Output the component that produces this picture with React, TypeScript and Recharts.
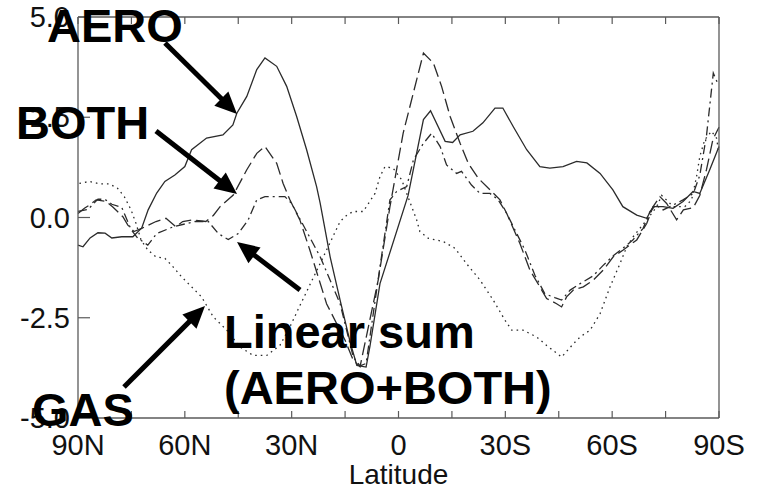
import { LineChart, Line, XAxis, YAxis } from "recharts";

// Zonal-mean change vs latitude. Negative lat = north, positive = south.
// Each series: [latitude, value].
const aero: [number, number][] = [
  [-90, -0.69], [-88.6, -0.73], [-86.6, -0.51], [-84.4, -0.38], [-82.4, -0.39], [-80.5, -0.51],
  [-77.7, -0.48], [-74.6, -0.48], [-72.1, -0.26], [-70.3, 0.19], [-67.9, 0.61], [-65.6, 0.9],
  [-62.8, 1.06], [-60, 1.27], [-58.1, 1.69], [-53.9, 1.98], [-49.3, 2.06], [-46.5, 2.31],
  [-45.4, 2.6], [-42.6, 3.02], [-39.8, 3.69], [-37.5, 3.98], [-34.2, 3.77], [-31.4, 3.27],
  [-28.6, 2.52], [-25.8, 1.69], [-23, 0.77], [-22, 0.36], [-19.2, -0.98], [-16.4, -2.06],
  [-13.6, -3.1], [-11.7, -3.69], [-9.1, -3.73], [-8, -3.2], [-5.2, -1.65], [2.7, 0.55],
  [7, 2.44], [9, 2.66], [13.1, 1.9], [15.2, 1.87], [17.3, 2.06], [20.9, 2.15], [23.7, 2.36],
  [27.1, 2.73], [29.3, 2.73], [32.2, 2.27], [36, 1.69], [39.7, 1.27], [42.5, 1.23], [46.2, 1.27],
  [50, 1.4], [52.9, 1.36], [56.6, 1.1], [60.2, 0.69], [63, 0.27], [66.9, 0.06], [69.7, -0.02],
  [71.5, 0.27], [74.3, 0.27], [77.1, 0.23], [79.9, 0.4], [82.7, 0.65], [84.6, 0.6], [87.4, 1.19],
  [90, 1.77],
];

const both: [number, number][] = [
  [-90, 0.1], [-88.2, 0.23], [-86.8, 0.31], [-84.9, 0.44], [-82.1, 0.4], [-80.3, 0.27],
  [-78.9, 0.15], [-77.4, 0.02], [-76, -0.19], [-74.3, -0.35], [-72.1, -0.27], [-68.1, -0.1],
  [-65.3, -0.02], [-62.5, -0.23], [-60.6, -0.1], [-57.8, -0.06], [-54.1, -0.1], [-52, 0.05],
  [-50.1, 0.27], [-46.4, 0.56], [-42.6, 1.19], [-39.8, 1.6], [-37.5, 1.77], [-34.2, 1.35],
  [-32.4, 0.85], [-30.5, 0.44], [-27.7, -0.06], [-24.9, -0.81], [-20.2, -2.15], [-15, -3.06],
  [-12.7, -3.56], [-10.8, -3.72], [-5.7, -1.56], [-2.4, 0.27], [1.3, 2.1], [7, 4.1], [9.8, 3.85],
  [12.1, 3.27], [14.5, 2.52], [17.3, 1.85], [19.6, 1.35], [22.4, 0.98], [25.7, 0.69], [28.5, 0.44],
  [30.4, 0.1], [34.1, -0.65], [36.9, -1.31], [39.7, -1.73], [41.6, -2.02], [44.4, -2.15],
  [45.8, -2.23], [47.2, -1.98], [49.1, -1.81], [51.9, -1.73], [54.7, -1.56], [57.5, -1.31],
  [60.3, -0.98], [63.1, -0.81], [66.9, -0.56], [69.7, -0.15], [71.5, 0.27], [73.4, 0.52],
  [75.3, 0.35], [78.1, -0.06], [80, 0.19], [82.8, 0.25], [84.6, 0.55], [86.5, 1.2], [88.3, 1.95],
  [90, 2.25],
];

const linearSum: [number, number][] = [
  [-90, 0.15], [-87.2, 0.2], [-84.4, 0.46], [-82.4, 0.45], [-80.5, 0.33], [-77.7, 0.25],
  [-75.1, -0.3], [-73.2, -0.52], [-71.8, -0.6], [-70.4, -0.69], [-67.9, -0.4], [-63.2, -0.23],
  [-57.1, -0.1], [-53.4, -0.1], [-50.6, -0.4], [-47.8, -0.55], [-45, -0.4], [-42.2, -0.06],
  [-39.8, 0.44], [-37.5, 0.52], [-31.9, 0.52], [-30, 0.35], [-22, -0.98], [-16.4, -2.15],
  [-12.7, -3.48], [-10.8, -3.7], [-9.1, -3.64], [-5.2, -1.23], [-2.4, 0.44], [-0.5, 0.65],
  [2.3, 0.77], [4.2, 1.44], [7, 1.85], [9.3, 2.1], [11.7, 1.77], [13.5, 1.31], [16.3, 1.1],
  [17.7, 1.15], [20.5, 0.81], [22.9, 0.6], [25.7, 0.6], [28, 0.44], [30.4, 0.1], [33.2, -0.4],
  [35.5, -0.81], [38.3, -1.44], [41.1, -1.9], [43.9, -2], [45.8, -2.06], [48.2, -1.81],
  [51, -1.65], [54.6, -1.46], [57.4, -1.2], [60.2, -0.96], [63, -0.77], [65.8, -0.56],
  [68.7, -0.27], [70.6, 0.15], [72.3, 0.31], [74.3, 0.19], [77.1, 0.31], [79.9, 0.44],
  [82.8, 0.6], [84.6, 1.05], [86.5, 2.05], [88.4, 3.6], [89.8, 3.31],
];

const gas: [number, number][] = [
  [-89.6, 0.85], [-86.8, 0.9], [-84, 0.84], [-81.2, 0.84], [-78.9, 0.73], [-77, 0.52],
  [-75.1, 0.19], [-73.7, -0.15], [-72.3, -0.56], [-70.4, -0.81], [-68.1, -0.98], [-65.6, -1.02],
  [-63.7, -1.19], [-60.9, -1.48], [-58.1, -1.73], [-55.3, -1.98], [-52, -2.48], [-48.2, -2.81],
  [-44.5, -3.23], [-40.8, -3.44], [-37, -3.44], [-33.3, -3.19], [-30.5, -2.73], [-27.7, -2.2],
  [-21.1, -0.98], [-16.4, -0.1], [-14.5, 0.06], [-12.7, 0.15], [-9.9, 0.15], [-6.6, 0.6],
  [-5.2, 1.02], [-3.8, 1.27], [-1.5, 1.23], [0.9, 0.94], [2.3, 0.6], [3.7, 0.27], [5.1, -0.06],
  [6, -0.35], [8.4, -0.52], [12.6, -0.6], [15.9, -0.77], [19.1, -1.15], [22.9, -1.56],
  [26.6, -2.06], [29.9, -2.56], [31.8, -2.81], [35, -2.81], [38.8, -2.98], [41.6, -3.19],
  [45.8, -3.48], [49.1, -3.15], [51, -2.98], [53.8, -2.81], [56.6, -2.4], [59.4, -1.73],
  [62.2, -1.15], [64.1, -0.73], [65.9, -0.48], [69.7, -0.06], [72.5, 0.27], [73.9, 0.55],
  [77.2, 0.27], [80.4, 0.27], [82.3, 0.44], [83.7, 1.02], [84.6, 1.52], [86, 1.94], [87.9, 2.15],
  [89.3, 1.98], [90, 1.6],
];

const X_TICKS = [-90, -75, -60, -45, -30, -15, 0, 15, 30, 45, 60, 75, 90];
const Y_TICKS = [-5, -2.5, 0, 2.5, 5];

const SERIES = [
  { key: "aero", pts: aero, dash: undefined },
  { key: "both", pts: both, dash: "13 5" },
  { key: "sum", pts: linearSum, dash: "9 4 2 4" },
  { key: "gas", pts: gas, dash: "1.6 4" },
];

const FONT = "'Liberation Sans', Arial, Helvetica, sans-serif";
const AXIS = "#5a5a5a";
const INK = "#2b2b2b";

type Row = { lat: number } & Record<string, number>;

const rows: Row[] = SERIES.flatMap((s) =>
  s.pts.map(([lat, v]) => ({ lat, [s.key]: v } as Row))
).sort((a, b) => a.lat - b.lat);

function latLabel(v: number): string {
  if (v === 0) return "0";
  return v < 0 ? `${-v}N` : `${v}S`;
}

function BottomTick({ x, y, payload }: any) {
  const v = payload.value as number;
  return (
    <g>
      <line x1={x} y1={y} x2={x} y2={y - 7} stroke={AXIS} strokeWidth={1.2} />
      {v % 30 === 0 ? (
        <text x={x} y={y + 37} textAnchor="middle" fontSize={29} fontFamily={FONT} fill="#111">
          {latLabel(v)}
        </text>
      ) : null}
    </g>
  );
}

function TopTick({ x, y }: any) {
  return <line x1={x} y1={y} x2={x} y2={y + 7} stroke={AXIS} strokeWidth={1.2} />;
}

function LeftTick({ x, y, payload }: any) {
  return (
    <g>
      <line x1={x} y1={y} x2={x + 12} y2={y} stroke={AXIS} strokeWidth={1.2} />
      <text x={x - 8} y={y + 10} textAnchor="end" fontSize={29} fontFamily={FONT} fill="#111">
        {(payload.value as number).toFixed(1)}
      </text>
    </g>
  );
}

function RightTick({ x, y }: any) {
  return <line x1={x} y1={y} x2={x - 14} y2={y} stroke={AXIS} strokeWidth={1.2} />;
}

function Arrow({ from, to }: { from: [number, number]; to: [number, number] }) {
  const [x1, y1] = from;
  const [x2, y2] = to;
  const len = Math.hypot(x2 - x1, y2 - y1);
  const ux = (x2 - x1) / len;
  const uy = (y2 - y1) / len;
  const hl = 22;
  const hw = 10;
  const bx = x2 - ux * hl;
  const by = y2 - uy * hl;
  return (
    <g>
      <line x1={x1} y1={y1} x2={bx + ux * 2} y2={by + uy * 2} stroke="#000" strokeWidth={5} />
      <polygon
        points={`${x2},${y2} ${bx - uy * hw},${by + ux * hw} ${bx + uy * hw},${by - ux * hw}`}
        fill="#000"
      />
    </g>
  );
}

function Annotations() {
  const t = { fontSize: 47, fontWeight: 700, fontFamily: FONT, fill: "#000" };
  return (
    <svg
      width={758}
      height={491}
      style={{ position: "absolute", left: 0, top: 0, pointerEvents: "none" }}
    >
      <text x={47} y={42} {...t}>AERO</text>
      <text x={16} y={139} {...t}>BOTH</text>
      <text x={224} y={348} {...t}>Linear sum</text>
      <text x={224} y={404} {...t}>(AERO+BOTH)</text>
      <text x={32} y={426} {...t}>GAS</text>
      <Arrow from={[165, 43]} to={[237, 114]} />
      <Arrow from={[156, 131]} to={[237, 194]} />
      <Arrow from={[300, 290]} to={[237, 242]} />
      <Arrow from={[124, 387]} to={[205, 306]} />
    </svg>
  );
}

export default function App() {
  return (
    <div style={{ position: "absolute", left: 0, top: 0, width: 758, height: 491, background: "#fff" }}>
      <LineChart
        width={758}
        height={491}
        data={rows}
        margin={{ top: 16, right: 38, bottom: 43, left: 18 }}
      >
        <XAxis
          dataKey="lat"
          type="number"
          domain={[-90, 90]}
          ticks={X_TICKS}
          interval={0}
          height={30}
          tickSize={0}
          tickMargin={0}
          tickLine={false}
          tick={<BottomTick />}
          axisLine={{ stroke: AXIS, strokeWidth: 1.3 }}
          label={{
            value: "Latitude",
            position: "bottom",
            offset: 16,
            fontSize: 28,
            fontFamily: FONT,
            fill: "#111",
          }}
        />
        <XAxis
          xAxisId="top"
          orientation="top"
          dataKey="lat"
          type="number"
          domain={[-90, 90]}
          ticks={X_TICKS}
          interval={0}
          height={1}
          tickSize={0}
          tickMargin={0}
          tickLine={false}
          tick={<TopTick />}
          axisLine={{ stroke: AXIS, strokeWidth: 1.3 }}
        />
        <YAxis
          type="number"
          domain={[-5, 5]}
          ticks={Y_TICKS}
          interval={0}
          width={60}
          tickSize={0}
          tickMargin={0}
          tickLine={false}
          tick={<LeftTick />}
          axisLine={{ stroke: AXIS, strokeWidth: 1.3 }}
        />
        <YAxis
          yAxisId="right"
          orientation="right"
          type="number"
          domain={[-5, 5]}
          ticks={Y_TICKS}
          interval={0}
          width={1}
          tickSize={0}
          tickMargin={0}
          tickLine={false}
          tick={<RightTick />}
          axisLine={{ stroke: AXIS, strokeWidth: 1.3 }}
        />
        {SERIES.map((s) => (
          <Line
            key={s.key}
            type="linear"
            dataKey={s.key}
            stroke={INK}
            strokeWidth={1.3}
            strokeDasharray={s.dash}
            dot={false}
            activeDot={false}
            connectNulls
            isAnimationActive={false}
          />
        ))}
      </LineChart>
      <Annotations />
    </div>
  );
}
